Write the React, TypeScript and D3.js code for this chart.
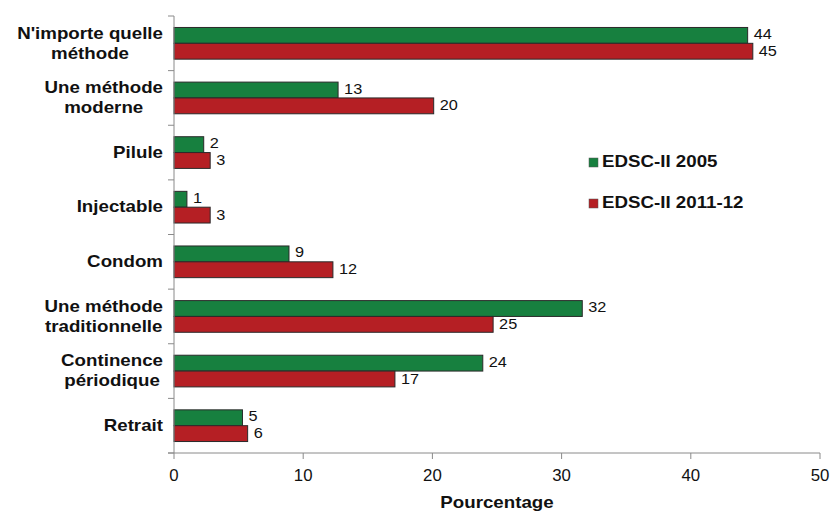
import React from "react";
import * as d3 from "d3";

const categories: string[][] = [
  ["N'importe quelle", "méthode"],
  ["Une méthode", "moderne"],
  ["Pilule"],
  ["Injectable"],
  ["Condom"],
  ["Une méthode", "traditionnelle"],
  ["Continence", "périodique"],
  ["Retrait"],
];
const series2005: number[] = [44.4, 12.7, 2.3, 1.0, 8.9, 31.6, 23.9, 5.3];
const series2011: number[] = [44.8, 20.1, 2.8, 2.8, 12.3, 24.7, 17.1, 5.7];
const seriesNames: string[] = ["EDSC-II 2005", "EDSC-II 2011-12"];
const xTicks: number[] = [0, 10, 20, 30, 40, 50];
const xTitle = "Pourcentage";

const W = 832;
const H = 514;
const left = 174;
const right = 820;
const top = 16;
const bottom = 453;
const GREEN = "#17803f";
const RED = "#b51f24";
const FONT = "'Liberation Sans', Arial, sans-serif";
const BOLD_STRETCH = 1.17;
const NUM_STRETCH = 1.05;

let measureCtx: CanvasRenderingContext2D | null = null;
function measureBold(s: string): number {
  if (!measureCtx) {
    const c = document.createElement("canvas");
    measureCtx = c.getContext("2d");
  }
  if (!measureCtx) return s.length * 9;
  measureCtx.font = "bold 16px 'Liberation Sans', Arial, sans-serif";
  return measureCtx.measureText(s).width;
}

export default function App() {
  const x = d3.scaleLinear().domain([0, 50]).range([left, right]);
  const y = d3
    .scaleBand<number>()
    .domain(d3.range(categories.length))
    .range([top, bottom])
    .paddingInner(0.42)
    .paddingOuter(0.21);
  const bh = y.bandwidth() / 2;
  const step = y.step();
  const fmt = (v: number) => String(Math.round(v));
  const series = [series2005, series2011];
  const colors = [GREEN, RED];

  return (
    <svg width={W} height={H} style={{ position: "absolute", left: 0, top: 0, background: "#fff" }} fontFamily={FONT}>
      {/* bars */}
      {series.map((s, si) =>
        s.map((v, i) => (
          <rect
            key={`b${si}-${i}`}
            x={x(0)}
            y={(y(i) as number) + si * bh}
            width={x(v) - x(0)}
            height={bh}
            fill={colors[si]}
            stroke="#2a2a2a"
            strokeWidth={1}
          />
        ))
      )}
      {/* value labels */}
      {series.map((s, si) =>
        s.map((v, i) => (
          <text
            key={`l${si}-${i}`}
            transform={`translate(${x(v) + 6},${(y(i) as number) + si * bh + bh / 2 + (si === 0 ? -0.5 : 0.5)}) scale(${NUM_STRETCH},1)`}
            fontSize={15.5}
            fill="#111"
            dominantBaseline="middle"
          >
            {fmt(v)}
          </text>
        ))
      )}
      {/* y axis */}
      <line x1={left} x2={left} y1={top} y2={bottom} stroke="#8a8a8a" strokeWidth={1} />
      {d3.range(categories.length + 1).map((i) => (
        <line key={`yt${i}`} x1={left - 6} x2={left} y1={top + i * step} y2={top + i * step} stroke="#8a8a8a" />
      ))}
      {/* x axis */}
      <line x1={left - 6} x2={right} y1={bottom} y2={bottom} stroke="#8a8a8a" strokeWidth={1} />
      {xTicks.map((t) => (
        <g key={`xt${t}`}>
          <line x1={x(t)} x2={x(t)} y1={bottom} y2={bottom + 6} stroke="#8a8a8a" />
          <text
            transform={`translate(${x(t)},${bottom + 24}) scale(${NUM_STRETCH},1)`}
            fontSize={16}
            textAnchor="middle"
            dominantBaseline="middle"
            fill="#111"
          >
            {t}
          </text>
        </g>
      ))}
      <text
        transform={`translate(${(left + right) / 2},${bottom + 51}) scale(${BOLD_STRETCH},1)`}
        fontSize={16}
        fontWeight="bold"
        textAnchor="middle"
        dominantBaseline="middle"
        fill="#111"
      >
        {xTitle}
      </text>
      {/* category labels */}
      {categories.map((lines, i) => {
        const cy = (y(i) as number) + y.bandwidth() / 2 + 1;
        const lh = 20;
        const y0 = cy - ((lines.length - 1) * lh) / 2;
        const maxW = Math.max(...lines.map(measureBold)) * BOLD_STRETCH;
        const cx = left - 11 - maxW / 2;
        return (
          <g key={`c${i}`}>
            {lines.map((ln, k) => (
              <text
                key={k}
                transform={`translate(${cx},${y0 + k * lh}) scale(${BOLD_STRETCH},1)`}
                fontSize={16}
                fontWeight="bold"
                textAnchor="middle"
                dominantBaseline="middle"
                fill="#111"
              >
                {ln}
              </text>
            ))}
          </g>
        );
      })}
      {/* legend */}
      {seriesNames.map((n, i) => (
        <g key={`lg${i}`}>
          <rect x={589} y={158 + i * 41} width={9} height={9} fill={colors[i]} stroke="#555" strokeWidth={0.5} />
          <text
            transform={`translate(602,${163 + i * 41}) scale(${BOLD_STRETCH},1)`}
            fontSize={16}
            fontWeight="bold"
            dominantBaseline="middle"
            fill="#111"
          >
            {n}
          </text>
        </g>
      ))}
    </svg>
  );
}
